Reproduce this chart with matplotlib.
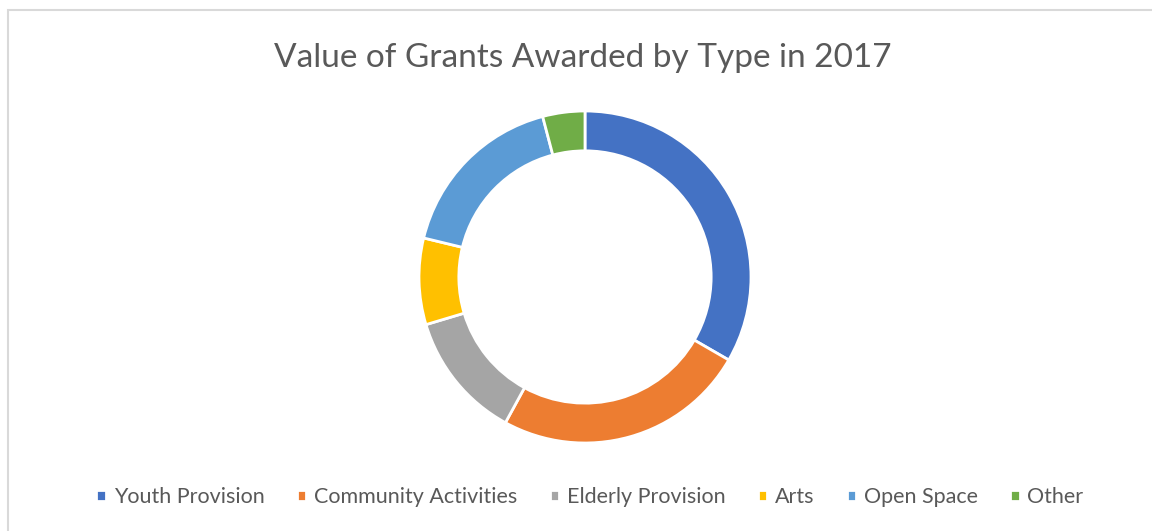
import matplotlib
matplotlib.use("Agg")
import matplotlib.pyplot as plt
from matplotlib.patches import Rectangle

# grant value share by type
categories = ["Youth Provision", "Community Activities", "Elderly Provision",
              "Arts", "Open Space", "Other"]
values = [33.3, 24.6, 12.4, 8.4, 17.1, 4.1]
colors = ["#4472C4", "#ED7D31", "#A5A5A5", "#FFC000", "#5B9BD5", "#70AD47"]

plt.rcParams.update({"font.family": ["Lato", "DejaVu Sans"]})

W, H = 1152, 531
fig = plt.figure(figsize=(W / 100, H / 100), dpi=100)
fig.patch.set_facecolor("white")

# chart-area border (Excel style), cropped at right/bottom
fig.add_artist(Rectangle((8 / W, -0.05), 1.2, (H - 10) / H + 0.05, transform=fig.transFigure,
                         fill=False, edgecolor="#D9D9D9", linewidth=1.5))

cx, cy, r = 585, 277, 166
ax = fig.add_axes([(cx - r) / W, (H - cy - r) / H, 2 * r / W, 2 * r / H])
wedges, _ = ax.pie(values, colors=colors, startangle=90, counterclock=False, radius=1,
                   wedgeprops=dict(width=0.24, edgecolor="white", linewidth=2))
ax.set_xlim(-1, 1); ax.set_ylim(-1, 1)
ax.set_aspect("equal")
ax.axis("off")

fig.text(583 / W, 1 - 58 / H, "Value of Grants Awarded by Type in 2017", ha="center",
         va="center", fontsize=24, color="#595959")

leg = fig.legend(wedges, categories, loc="center", bbox_to_anchor=(590 / W, 1 - 497 / H),
                 ncol=6, frameon=False, fontsize=15.5, handlelength=0.45, handleheight=0.45,
                 handletextpad=0.35, columnspacing=1.5)
for t in leg.get_texts():
    t.set_color("#595959")

fig.savefig("out.png", dpi=100)
